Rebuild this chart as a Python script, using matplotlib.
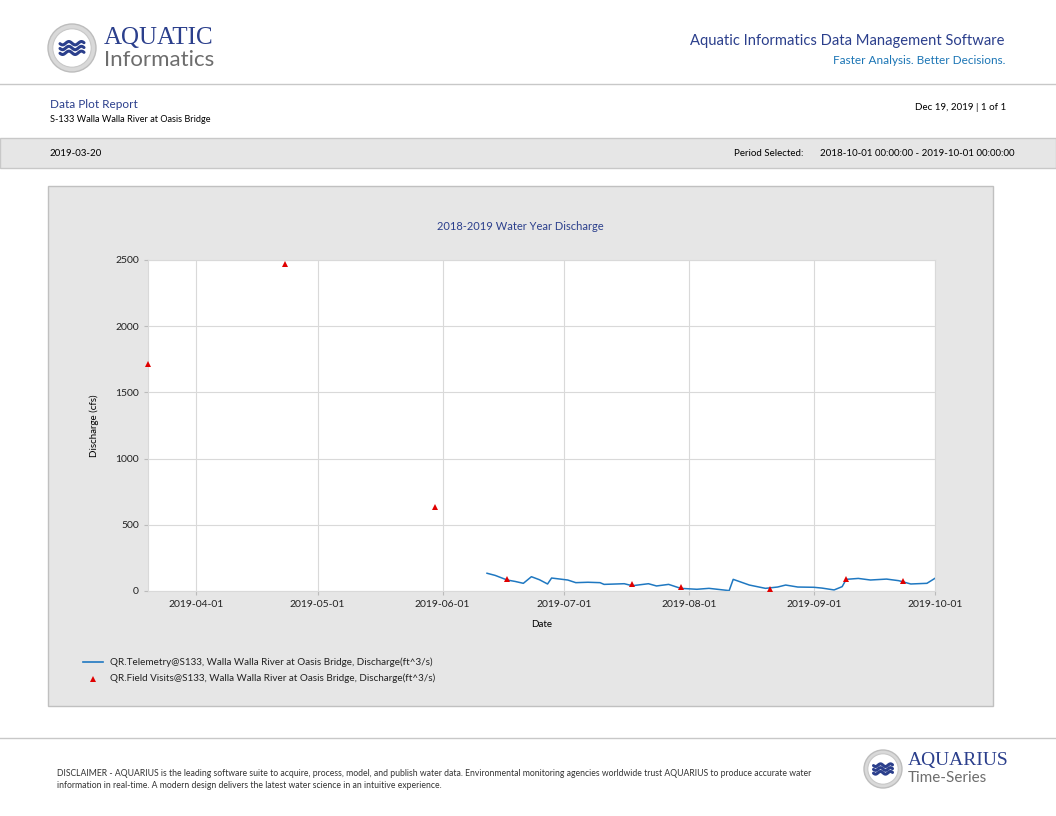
import numpy as np
import pandas as pd
import matplotlib
matplotlib.use('Agg')
import matplotlib.pyplot as plt
import matplotlib.dates as mdates
from matplotlib.patches import Rectangle, Circle

plt.rcParams['font.family'] = ['Lato', 'DejaVu Sans']

# Telemetry discharge (cfs)
tele_dates = ['2019-06-12', '2019-06-14', '2019-06-17', '2019-06-19', '2019-06-21',
              '2019-06-23', '2019-06-25', '2019-06-27', '2019-06-28', '2019-07-02',
              '2019-07-04', '2019-07-07', '2019-07-10', '2019-07-11', '2019-07-16',
              '2019-07-18', '2019-07-22', '2019-07-24', '2019-07-27', '2019-07-30',
              '2019-08-03', '2019-08-06', '2019-08-11', '2019-08-12', '2019-08-16',
              '2019-08-20', '2019-08-23', '2019-08-25', '2019-08-28', '2019-09-01',
              '2019-09-03', '2019-09-06', '2019-09-08', '2019-09-09', '2019-09-12',
              '2019-09-15', '2019-09-19', '2019-09-22', '2019-09-25', '2019-09-29',
              '2019-10-01']
tele_values = [134, 118, 83, 72, 58,
               108, 85, 53, 98, 83,
               63, 66, 63, 50, 55,
               40, 55, 38, 50, 20,
               13, 20, 3, 88, 45,
               20, 30, 45, 30, 28,
               22, 8, 33, 88, 95,
               83, 90, 78, 53, 58,
               96]

# Field visit discharge (cfs)
visit_dates = ['2019-03-20', '2019-04-23', '2019-05-30', '2019-06-17', '2019-07-18',
               '2019-07-30', '2019-08-21', '2019-09-09', '2019-09-23']
visit_values = [1714, 2470, 634, 90, 50, 30, 15, 90, 75]

x_ticks = ['2019-04-01', '2019-05-01', '2019-06-01', '2019-07-01',
           '2019-08-01', '2019-09-01', '2019-10-01']
y_ticks = [0, 500, 1000, 1500, 2000, 2500]

W, H = 1056, 816
fig = plt.figure(figsize=(W / 100, H / 100), dpi=100)

# page background in pixel coordinates
bg = fig.add_axes([0, 0, 1, 1])
bg.set_xlim(0, W)
bg.set_ylim(H, 0)
bg.axis('off')

dark_blue = '#2b3f8c'
mid_blue = '#1b75b5'
grey_line = '#c8c8c8'


def logo(cx, cy, r):
    bg.add_patch(Circle((cx, cy), r, facecolor='#d9d9d9', edgecolor='#bdbdbd', lw=1))
    bg.add_patch(Circle((cx, cy), r * 0.8, facecolor='white', edgecolor='#c8c8c8', lw=0.8))
    t = np.linspace(-r * 0.5, r * 0.5, 60)
    for dy in (-r * 0.2, 0, r * 0.2):
        bg.plot(cx + t, cy + dy + r * 0.07 * np.sin(t / r * 12), color=dark_blue, lw=2.2,
                solid_capstyle='round')


# header
logo(72, 48, 24)
bg.text(104, 38, 'AQUATIC', fontsize=18, family=['Liberation Serif'], color=dark_blue,
        va='center', ha='left')
bg.text(104, 60, 'Informatics', fontsize=16, color='#6d6d6d', va='center', ha='left')
bg.text(1005, 41, 'Aquatic Informatics Data Management Software', fontsize=10.6,
        color=dark_blue, ha='right', va='center')
bg.text(1005, 60, 'Faster Analysis. Better Decisions.', fontsize=8.5,
        color=mid_blue, ha='right', va='center')
bg.plot([0, W], [84, 84], color=grey_line, lw=1)

bg.text(50, 105, 'Data Plot Report', fontsize=8.5, color=dark_blue, va='center')
bg.text(50, 120, 'S-133 Walla Walla River at Oasis Bridge', fontsize=6.6,
        color='black', va='center')
bg.text(1006, 107, 'Dec 19, 2019 | 1 of 1', fontsize=7, color='black',
        ha='right', va='center')

bg.add_patch(Rectangle((0, 138), W, 30, facecolor='#e6e6e6', edgecolor='#c8c8c8', lw=1))
bg.text(50, 153, '2019-03-20', fontsize=7, color='black', va='center')
bg.text(803, 153, 'Period Selected:', fontsize=7, color='black', ha='right', va='center')
bg.text(1015, 153, '2018-10-01 00:00:00 - 2019-10-01 00:00:00', fontsize=7,
        color='black', ha='right', va='center')

# chart panel
bg.add_patch(Rectangle((48, 186), 945, 520, facecolor='#e6e6e6', edgecolor='#c0c0c0', lw=1))
bg.text(520, 226, '2018-2019 Water Year Discharge', fontsize=8, color=dark_blue,
        ha='center', va='center')

# footer
bg.plot([0, W], [738, 738], color=grey_line, lw=1)
bg.text(57, 774, 'DISCLAIMER - AQUARIUS is the leading software suite to acquire, process, '
        'model, and publish water data. Environmental monitoring agencies worldwide trust '
        'AQUARIUS to produce accurate water', fontsize=6.2, color='#333333', va='center')
bg.text(57, 786, 'information in real-time. A modern design delivers the latest water science '
        'in an intuitive experience.', fontsize=6.2, color='#333333', va='center')
logo(883, 769, 19)
bg.text(908, 761, 'AQUARIUS', fontsize=14, family=['Liberation Serif'], color=dark_blue,
        va='center')
bg.text(908, 778, 'Time-Series', fontsize=11, color='#6d6d6d', va='center')

# data axes
x0, x1, y0, y1 = 148, 935, 260, 591
ax = fig.add_axes([x0 / W, 1 - y1 / H, (x1 - x0) / W, (y1 - y0) / H])
ax.set_facecolor('white')

td = pd.to_datetime(tele_dates)
vd = pd.to_datetime(visit_dates)
line, = ax.plot(td, tele_values, color='#1f78c1', lw=1.1)
pts, = ax.plot(vd, visit_values, linestyle='none', marker='^', markersize=5,
               color='#e00000', markeredgewidth=0, clip_on=False, zorder=5)

ax.set_xlim(pd.Timestamp('2019-03-20'), pd.Timestamp('2019-10-01'))
ax.set_ylim(0, 2500)
ax.set_xticks(pd.to_datetime(x_ticks))
ax.xaxis.set_major_formatter(mdates.DateFormatter('%Y-%m-%d'))
ax.set_yticks(y_ticks)
ax.grid(True, color='#d9d9d9', lw=0.8)
ax.set_axisbelow(True)
for s in ax.spines.values():
    s.set_color('#d9d9d9')
    s.set_linewidth(0.8)
ax.tick_params(axis='both', labelsize=7.5, colors='#222222', length=3, color='#bbbbbb')
ax.set_xlabel('Date', fontsize=7, labelpad=8)
ax.set_ylabel('Discharge (cfs)', fontsize=7, labelpad=12)

# legend
bg.plot([83, 103], [662, 662], color='#1f78c1', lw=1.2)
bg.text(110, 662, 'QR.Telemetry@S133, Walla Walla River at Oasis Bridge, Discharge(ft^3/s)',
        fontsize=7.1, color='#222222', va='center')
bg.plot([93], [679], marker='^', markersize=4.5, color='#e00000', markeredgewidth=0)
bg.text(110, 678, 'QR.Field Visits@S133, Walla Walla River at Oasis Bridge, Discharge(ft^3/s)',
        fontsize=7.1, color='#222222', va='center')

fig.savefig('out.png', dpi=100)
